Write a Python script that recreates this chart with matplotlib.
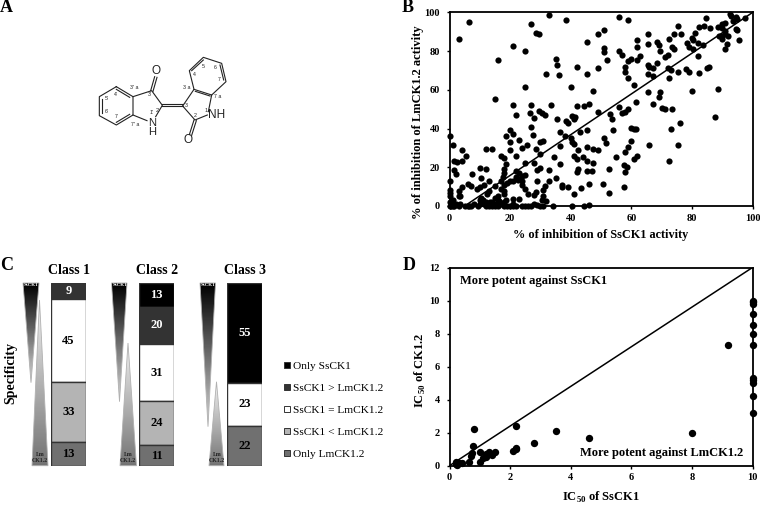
import numpy as np
import matplotlib
matplotlib.use('Agg')
import matplotlib.pyplot as plt
from matplotlib.patches import Polygon
from matplotlib.lines import Line2D

plt.rcParams['font.family'] = 'Liberation Serif'
plt.rcParams['mathtext.fontset'] = 'custom'
plt.rcParams['mathtext.bf'] = 'Liberation Serif:bold'
plt.rcParams['mathtext.rm'] = 'Liberation Serif:bold'

# ---- Panel B data
b_ss = [3.3,6.5,27,28.5,29.5,32.7,38.5,56,59,49,51,21,25,16,45.5,51,51,56,57,52,49,35,35.5,42,36,32,45.5,40,25,15,47.5,58,58,59,60,59,61,62,
65.5,62,65.5,62,63,68.5,69,72.5,74,75.5,76.5,73.5,74,69.5,71,72,79,78.5,80.5,80,81,80.5,82.5,84,84.5,83.5,82,86,85.5,85,82.5,82,78,79,75.5,72,73,72.5,68.5,65.5,66,67,65.5,67,65.5,69.5,69,67,70,71,73.5,61.5,80,88.5,87.5,76,73,75.5,72.5,66,
60,61,61.5,59,58,57,56,53,53.5,54,49,
92.5,93,94.5,95,97.5,93.5,91,90,88.5,90,91,94.5,95,91,92,89,90,90,91.5,91,95.5,
27,26.5,29.5,30.5,31.5,33.5,21,22,28,27,35.5,38.5,39,40.5,41.5,41,42,44.5,46,36.5,38,40,40.5,41,43,45.5,20,21,18.5,20,27.5,30,31,23,24,25.5,20,28.5,36.5,42.5,45.5,47.5,49,51,51.5,55,58,59,60,61,62,57.5,58.5,58,57.5,52.5,50.5,52.5,
41,42,44,45.5,47.5,42.5,42,45.5,47,46,43.5,41,36.5,34.5,33,35,33,31.5,31,37,37,39,30,28,29,30,29,25,22,18,18.5,17,18,
0.2,1,4,5.3,1.5,2.5,4,1.5,2,7.5,10,12,12,14,10.5,13,6,7,4,3,9,10,11.5,13,12.5,15,0.2,0.2,0.2,0.3,3,3.5,
17,17.5,18,18,19,20,21,22,23,22,22.5,23,24,24,25,24,25,17,18,18,16,15,16,18.5,21,23,26,28,28.5,31,30.5,32,28,34,40.5,44.5,46,
0,0.5,1,1.5,2,0.5,1,0,3,3.5,5,6,6.5,7,8,9.5,10,10,10.5,11,11.5,12,13,14,14,15,16,17,18,18,19,20,21,21,22,24,25,26,27,29,30,31,12,13.5,15,16.5]
b_lm = [86.5,95,94,89.3,89,98.7,96,97.8,96.3,89,90.7,82.5,80.3,75.5,85,81.5,79.5,80,78,75.5,71.5,76,73,72,67.5,68,68,61.7,61.7,55.5,59.5,72,69,75,76,66,62.5,75.2,
88.7,86,83.5,82,77.5,85,83.2,86.5,88.7,92.8,88.8,82,81,80,77,78,82,84,81,87,89.5,86,92.5,93,97,83,84,92,72,71.5,68.5,77.5,71,69.5,69.5,71.5,70.5,66,74,73,72,71.5,68,67,59,59,56.5,52.5,50.5,50,50,54,59.5,60.7,46,43,40,31.7,23.5,31.7,
40.3,39.7,39.7,50,48.5,48,51,47.5,45,39.5,48.5,
99,98,97.5,96.5,97,95.5,94.5,94,92.5,92,90.5,91.5,91,89,88,88,88,86.5,83.5,81,86,
52,48,49,48,47,52,52,47,45.5,41,45,44,43,46.5,46,45,51.5,51.5,52.8,38.5,36,35,33,32,38,39.5,39.5,37,36,33,36.5,33,33.5,34,30,31.5,29,29.5,31,29,30.5,29.5,29,35,32.5,25.5,28,30.5,33.5,24.5,26,21,20,17.5,10,19,11.5,6.5,
26,24.5,25.5,23.5,22,19,17.5,18,18,11.5,9.5,6,21.5,25.5,18.5,14.5,13,10.5,8.5,11,10,10,27,22,18.5,19.5,13,22,26,25,21.5,26,19,
36,31.7,29,26,23,22.5,23.5,18.5,16.5,16.5,19.5,19,29.5,29.5,14.5,13,11.5,10.5,10,8,9,10,11,8,6,10.5,13,8.5,6.5,5,5,5,
13,15,17,11,12,13,13,18,17,15,13.5,14,13,15.5,16,11,9,9,8,6,5,4,3,3,3.5,3.5,6,5.5,7,5,3,2.5,1,0,0,0,0.5,
0,0,0,0,1,2,3,2,0,1,0,0,0,0,1,0,1,3,4,3,1,0,0,0,2,0,0,1,0,2,0,0,0,1,0,0,0,0,0,0.5,0,0,2,2,1,2.5]
b_line_x = [5, 100]
b_line_y = [0, 100]

# ---- Panel D data
d_ss = [10,10,10,10,10,10,10,10,10,10,10,10,9.2,8,4.6,3.5,2.8,2.2,2.2,2.2,2.1,0.8,0.77,0.75,0.7,1.0,1.0,0.65,1.2,1.2,1.3,1.4,1.5,1.1,0.2,0.25,0.3,0.4,0.2,0.25]
d_ck = [10,9.9,9.8,9.2,8.5,8,7.3,5.3,5.2,5.0,4.2,3.2,7.3,2,1.7,2.1,1.4,2.4,1.05,1.0,0.9,2.2,1.2,0.75,0.6,0.85,0.2,0.25,0.5,0.7,0.8,0.65,0.85,0.45,0.2,0.1,0.15,0.15,0.1,0.05]
d_line_x = [0, 10]
d_line_y = [0, 12]

# ---- Panel C data
classes = ['Class 1', 'Class 2', 'Class 3']
segments = ['Only SsCK1', 'SsCK1 > LmCK1.2', 'SsCK1 = LmCK1.2', 'SsCK1 < LmCK1.2', 'Only LmCK1.2']
seg_colors = ['#000000', '#333333', '#ffffff', '#b4b4b4', '#707070']
class_values = [[0, 9, 45, 33, 13], [13, 20, 31, 24, 11], [55, 0, 23, 0, 22]]

W, H = 760, 505
fig = plt.figure(figsize=(W/100, H/100), dpi=100)

def pos(x0, x1, ytop, ybot):
    return [x0/W, 1-ybot/H, (x1-x0)/W, (ybot-ytop)/H]

def style(ax):
    for s in ax.spines.values():
        s.set_linewidth(1.3)
    ax.tick_params(length=2.5, width=1, labelsize=7.5)
    ax.tick_params(axis='x', pad=3)
    ax.tick_params(axis='y', pad=4.5)
    for t in ax.get_xticklabels()+ax.get_yticklabels():
        t.set_fontweight('bold')

# Panel B
axb = fig.add_axes(pos(449.5, 752.5, 12.5, 206))
axb.scatter(b_ss, b_lm, s=20, c='black', lw=0, clip_on=False, zorder=3)
axb.plot(b_line_x, b_line_y, color='black', lw=1.1)
axb.set_xlim(0, 100); axb.set_ylim(0, 100)
axb.set_xticks(range(0, 101, 20)); axb.set_yticks(range(0, 101, 20))
style(axb)

# Panel D
axd = fig.add_axes(pos(449.5, 752.5, 267.5, 465.7))
axd.scatter(d_ss, d_ck, s=28, c='black', lw=0, clip_on=False, zorder=3)
axd.plot(d_line_x, d_line_y, color='black', lw=1.1)
axd.set_xlim(0, 10); axd.set_ylim(0, 12)
axd.set_xticks(range(0, 11, 2)); axd.set_yticks(range(0, 13, 2))
style(axd)
axd.text(0.35, 11.2, 'More potent against SsCK1', fontsize=9, fontweight='bold', va='center')
axd.text(9.69, 0.76, 'More potent against LmCK1.2', fontsize=9, fontweight='bold', va='center', ha='right')

# Panel C bars
bar_px = [(51, 86), (139, 174), (227, 262)]
for (x0, x1), name, vals in zip(bar_px, classes, class_values):
    ax = fig.add_axes(pos(x0, x1, 283, 465.7))
    bottom = sum(vals)
    for v, col in zip(vals, seg_colors):
        if v == 0:
            continue
        bottom -= v
        ax.bar(0, v, bottom=bottom, width=1, color=col, edgecolor='#333333', lw=1)
        dark = col in ('#000000', '#333333')
        ax.text(0, bottom+v/2, str(v), ha='center', va='center', fontsize=9, fontweight='bold',
                color='white' if dark else 'black')
    ax.set_xlim(-0.5, 0.5); ax.set_ylim(0, sum(vals))
    ax.axis('off')

# Overlay in pixel space
ov = fig.add_axes([0, 0, 1, 1], zorder=-1)
ov.set_xlim(0, W); ov.set_ylim(H, 0); ov.axis('off')

def tri(x0, x1, apex_x, base_y, apex_y, cmap_vals):
    grad = np.linspace(cmap_vals[0], cmap_vals[1], 128).reshape(-1, 1)
    top, bot = min(base_y, apex_y), max(base_y, apex_y)
    im = ov.imshow(grad, extent=(x0, x1, bot, top), cmap='gray', vmin=0, vmax=1, aspect='auto', zorder=1)
    p = Polygon([(x0, base_y), (x1, base_y), (apex_x, apex_y)], closed=True, fc='none', ec='#b0b0b0', lw=0.6, zorder=2)
    ov.add_patch(p)
    im.set_clip_path(p)

tris = [(23, 39, 31, 382.7, 39.5, 300, 32, 48), (111.5, 127, 119.5, 401.7, 128, 343, 120, 136.5), (200, 215.5, 208, 426.7, 216.5, 381.7, 209, 224)]
for a0, a1, ax_, ay, bx, by, b0, b1 in tris:
    tri(a0, a1, ax_, 283, ay, (0, 0.85))
    tri(b0, b1, bx, 465.7, by, (0.95, 0.45))
    ov.text(ax_, 285.5, 'SsCK1', color='white', fontsize=3.6, fontweight='bold', ha='center', va='center', zorder=3)
    ov.text(b0+8.5, 454.5, 'Lm', color='#222222', fontsize=4.2, fontweight='bold', ha='center', va='center', zorder=3)
    ov.text(b0+7.8, 461, 'CK1.2', color='#222222', fontsize=4.2, fontweight='bold', ha='center', va='center', zorder=3)
ov.set_xlim(0, W); ov.set_ylim(H, 0)

# Molecule
bonds = [
 [(349,260),(399,290),(399,345),(349,375),(298,347),(298,290),(349,260)],
 [(399,290),(455,272),(487,316),(467,350)],
 [(441,362),(399,345)],
 [(548,318),(582,268),(635,285),(625,335)],
 [(548,318),(585,360),(622,345)],
 [(582,268),(568,212),(610,172),(665,190),(678,245),(635,285)],
 [(487,313),(548,313)], [(487,319),(548,319)],
 [(452,272),(464,230)], [(459,274),(471,232)],
 [(582,360),(568,404)], [(589,362),(575,406)],
 [(349,268),(389,292)], [(305,297),(305,340)], [(349,367),(389,343)],
 [(586,274),(630,288)], [(575,212),(610,180)], [(660,195),(671,240)],
]
for b in bonds:
    xs, ys = zip(*b)
    ov.plot(np.array(xs)/3, np.array(ys)/3, color='#222222', lw=0.8, zorder=2)
ss = dict(family='Liberation Sans', color='#222222', ha='center', va='center', zorder=3)
ov.text(469/3, 214/3, 'O', fontsize=8.5, **ss)
ov.text(564/3, 419/3, 'O', fontsize=8.5, **ss)
ov.text(455/3, 382/3, 'N\nH', fontsize=8, linespacing=0.85, **ss)
ov.text(651/3, 344/3, 'NH', fontsize=8.5, **ss)
small = [(402,263,"3' a"),(347,282,"4'"),(319,297,"5'"),(319,335,"6'"),(349,351,"7'"),(405,372,"7' a"),(450,285,"3'"),(473,332,"2'"),(456,338,"1'"),
         (561,262,'3 a'),(560,316,'3'),(586,346,'2'),(618,332,'1'),(654,291,'7 a'),(657,238,'7'),(645,203,'6'),(611,198,'5'),(584,222,'4')]
for x, y, s in small:
    ov.text(x/3, y/3, s, fontsize=3.8, **ss)

# Text labels
bf = dict(fontweight='bold', ha='center', va='center')
for s, x, y in [('A', 6.5, 7), ('B', 408, 7), ('C', 7, 265.5), ('D', 409, 266)]:
    ov.text(x, y, s, fontsize=13, **bf)
for name, x in zip(classes, (69, 157.5, 245)):
    ov.text(x, 270.5, name, fontsize=10, **bf)
ov.text(11, 373, 'Specificity', fontsize=10, rotation=90, **bf)
ov.text(601, 235, '% of inhibition of SsCK1 activity', fontsize=8.8, **bf)
ov.text(418, 122, '% of inhibition of LmCK1.2 activity', fontsize=9, rotation=90, **bf)
ov.text(601, 497, r'IC$_{\mathbf{50}}$ of SsCK1', fontsize=9, **bf)
ov.text(420, 370, r'IC$_{\mathbf{50}}$ of CK1.2', fontsize=9, rotation=90, **bf)

# Legend
handles = [Line2D([], [], ls='', marker='s', ms=4.4, mfc=c, mec='#333333', mew=0.7) for c in seg_colors]
leg = fig.legend(handles, segments, loc='upper left', bbox_to_anchor=(281/W, 1-361.5/H), frameon=False, fontsize=8.2,
                 handletextpad=0.05, labelspacing=1.05, handlelength=1, borderpad=0, borderaxespad=0)

fig.savefig('out.png', dpi=100)
